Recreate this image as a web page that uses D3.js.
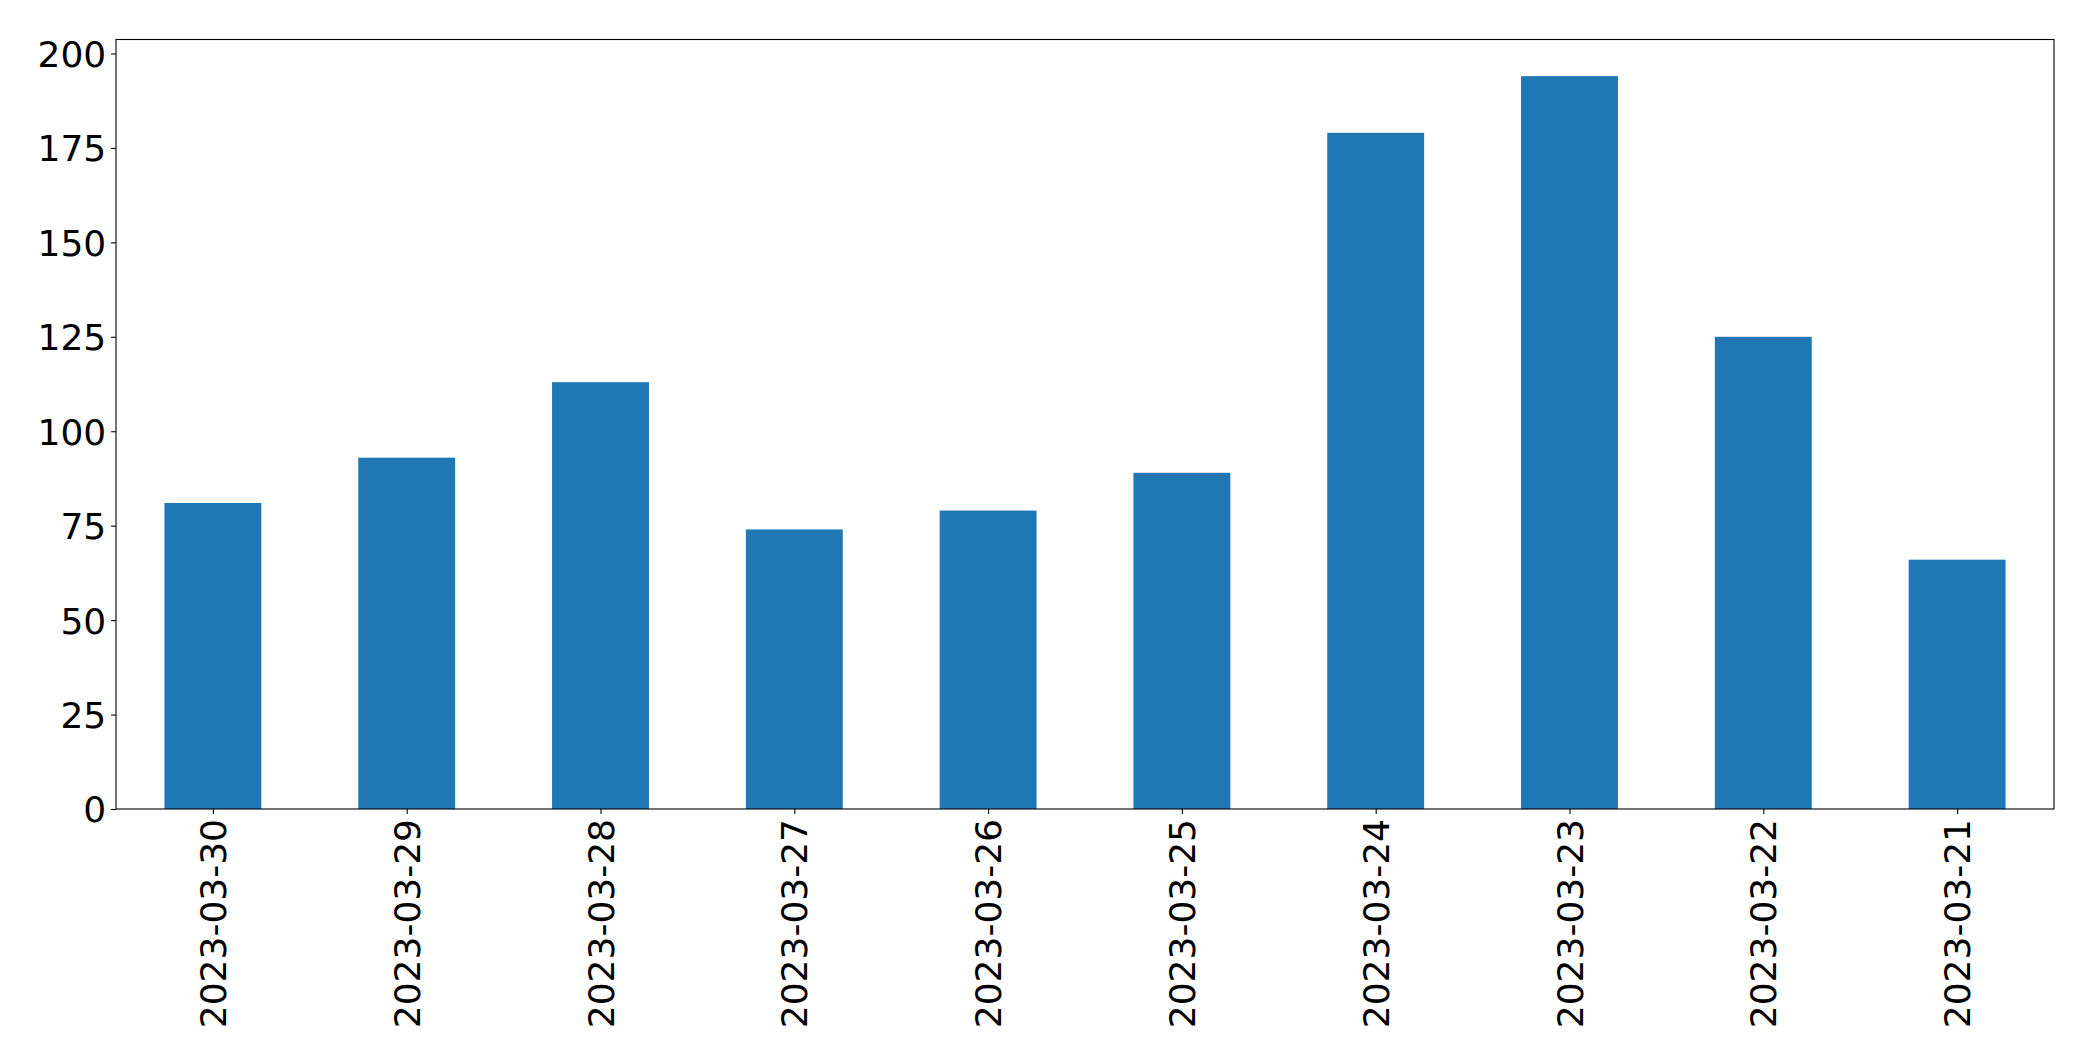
<!DOCTYPE html>
<html lang="en">
<head>
    <meta charset="UTF-8">
    <title>Bar Chart</title>
    <script src="https://d3js.org/d3.v7.min.js"></script>
    <style>
        body { margin: 0; background: white; }
        .tick text { font-family: "DejaVu Sans", sans-serif; font-size: 36px; fill: black; }
        .domain { display: none; }
    </style>
</head>
<body>
<svg id="main" width="2093" height="1061"></svg>
<script>
    // data
    let dates = ['2023-03-30', '2023-03-29', '2023-03-28', '2023-03-27', '2023-03-26',
        '2023-03-25', '2023-03-24', '2023-03-23', '2023-03-22', '2023-03-21'];
    let counts = [81, 93, 113, 74, 79, 89, 179, 194, 125, 66];
    let yTicks = [0, 25, 50, 75, 100, 125, 150, 175, 200];

    let svg = d3.select('svg#main');
    let box = {left: 116, right: 2054, top: 39.5, bottom: 809};

    // pandas-style bar axis: categories at 0..n-1, limits -0.5..n-0.5, bars 0.5 wide
    let xScale = d3.scaleLinear()
        .domain([-0.5, dates.length - 0.5])
        .range([box.left, box.right]);
    let yMax = d3.max(counts) * 1.05;
    let yScale = d3.scaleLinear()
        .domain([0, yMax])
        .range([box.bottom, box.top]);

    svg.selectAll('rect.bar')
        .data(counts)
        .enter()
        .append('rect')
        .attr('class', 'bar')
        .attr('x', function(d, i) { return xScale(i - 0.25); })
        .attr('width', function(d, i) { return xScale(i + 0.25) - xScale(i - 0.25); })
        .attr('y', function(d) { return yScale(d); })
        .attr('height', function(d) { return yScale(0) - yScale(d); })
        .style('fill', '#1f77b4');

    let yAxis = d3.axisLeft(yScale)
        .tickValues(yTicks)
        .tickFormat(d3.format('d'))
        .tickSize(4.9)
        .tickPadding(4.9)
        .tickSizeOuter(0);
    let gy = svg.append('g')
        .attr('transform', 'translate(' + box.left + ',0)')
        .call(yAxis);
    gy.selectAll('.tick line').attr('stroke', 'black').attr('stroke-width', 1.1);
    gy.selectAll('.tick text').attr('dy', '0.36em');

    let xAxis = d3.axisBottom(xScale)
        .tickValues(d3.range(dates.length))
        .tickFormat(function(i) { return dates[i]; })
        .tickSize(4.9)
        .tickSizeOuter(0);
    let gx = svg.append('g')
        .attr('transform', 'translate(0,' + box.bottom + ')')
        .call(xAxis);
    gx.selectAll('.tick line').attr('stroke', 'black').attr('stroke-width', 1.1);
    gx.selectAll('.tick text')
        .attr('y', 0)
        .attr('x', 0)
        .attr('dy', '0.35em')
        .attr('text-anchor', 'end')
        .attr('transform', 'translate(0,10) rotate(-90)');

    // frame
    svg.append('rect')
        .attr('x', box.left)
        .attr('y', box.top)
        .attr('width', box.right - box.left)
        .attr('height', box.bottom - box.top)
        .style('fill', 'none')
        .style('stroke', 'black')
        .style('stroke-width', 1.1);
</script>
</body>
</html>
